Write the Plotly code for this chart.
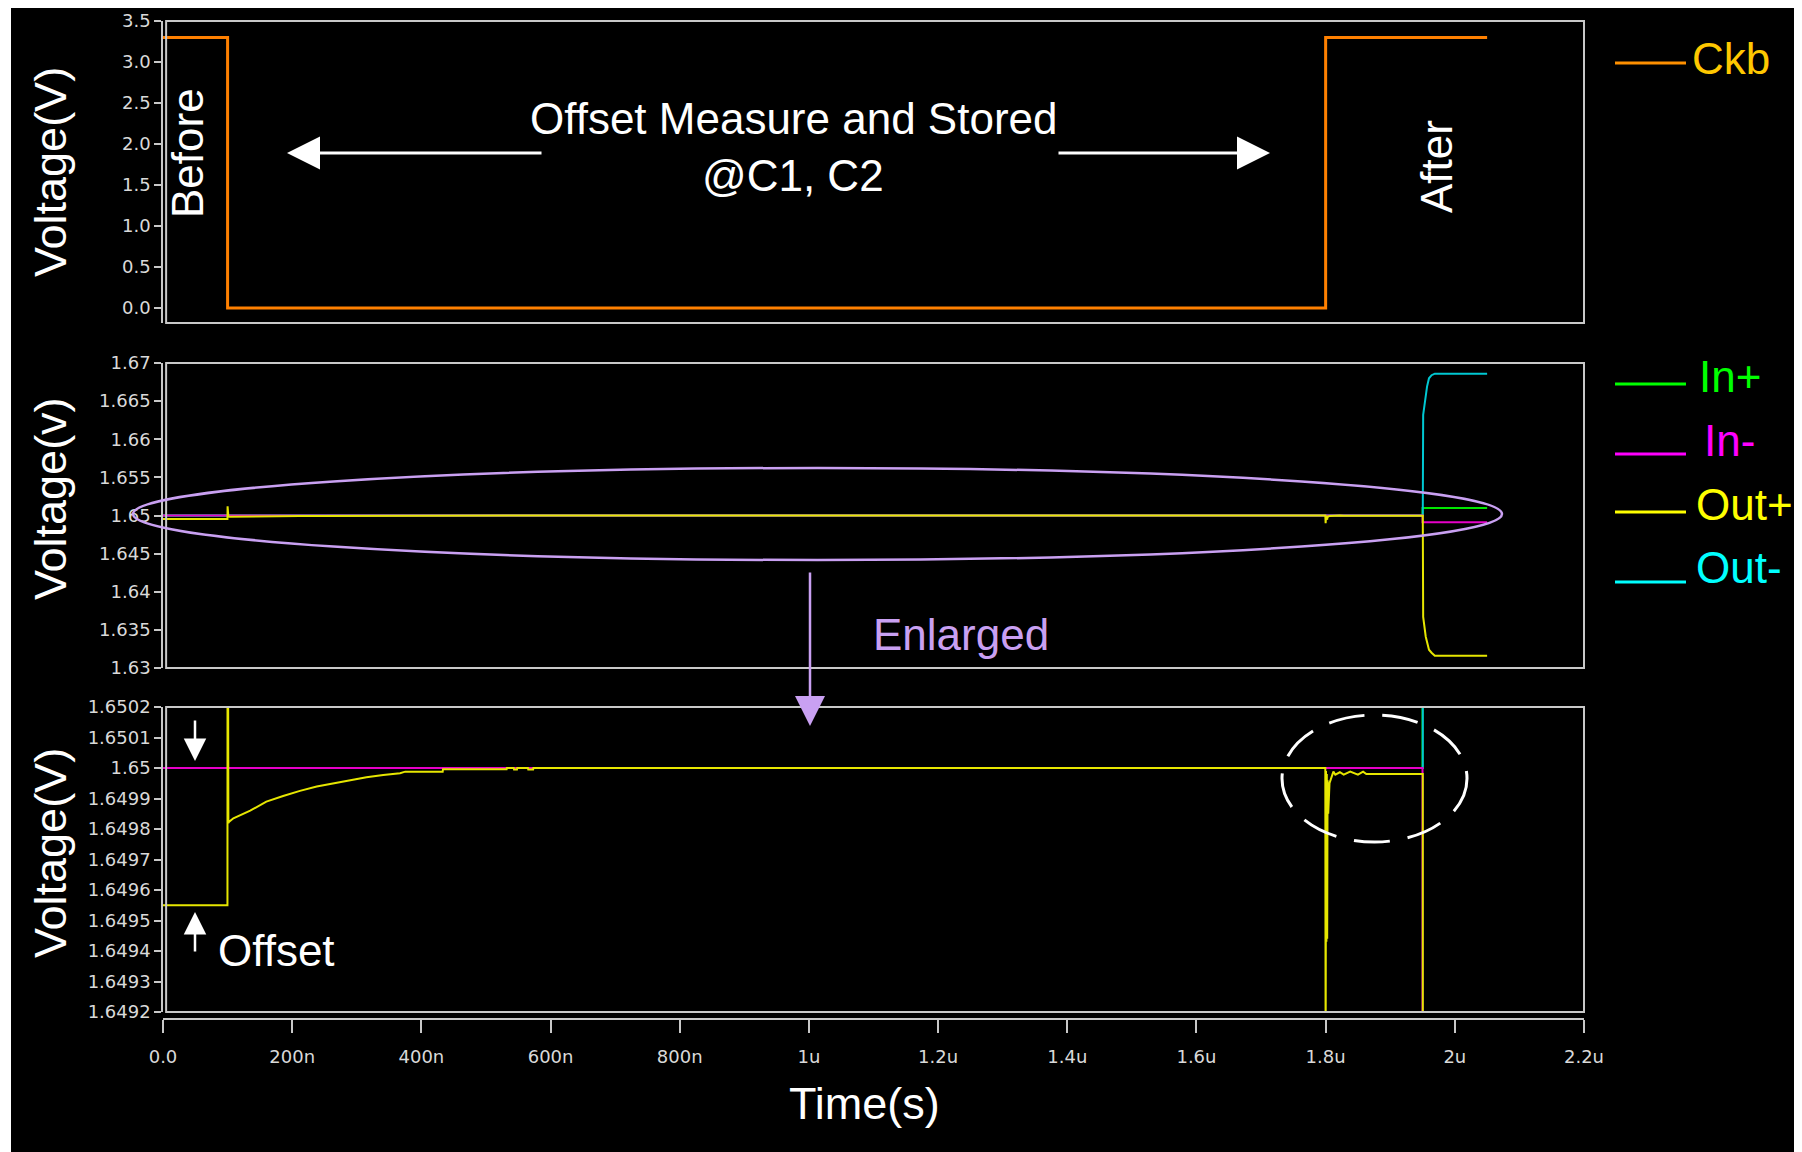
import plotly.graph_objects as go

W, H = 1802, 1152
PAGE_OFFSET = 8  # the page body margin shifts the figure by this many pixels

# ---------------- data (time in ns, voltage in V) ----------------
time_ckb_ns = [0, 100, 100, 1800, 1800, 2050]
ckb_v = [3.3, 3.3, 0.0, 0.0, 3.3, 3.3]

time_in_ns = [0, 1950, 1950, 2050]
in_plus_v = [1.65, 1.65, 1.651, 1.651]
in_minus_v = [1.65, 1.65, 1.6491, 1.6491]

time_out_minus_ns = [0, 1950.4, 1951, 1955, 1957, 1960, 1964, 1969, 2050]
out_minus_v = [1.65, 1.65, 1.6632, 1.6661, 1.6669, 1.6680, 1.6684, 1.6686, 1.6686]

time_out_plus_ns = [0, 99.8, 100, 100.6, 101.2, 102,
                    109, 135, 160, 186, 212, 238, 264, 289, 315, 341, 367,
                    375, 433, 433.5, 532, 532.5, 543, 543.5, 548, 548.5, 565, 565.5, 573, 573.5,
                    1799.5, 1800, 1800.6, 1801.2, 1801.8, 1802.4, 1803, 1804, 1806,
                    1812, 1815, 1822, 1828, 1838, 1850, 1858, 1863,
                    1950.4, 1951, 1955, 1957, 1960, 1964, 1969, 2050]
out_plus_v = [1.64955, 1.64955, 1.6512, 1.64988, 1.64982, 1.649823,
              1.649835, 1.64986, 1.64989, 1.649908, 1.649925, 1.649939, 1.64995, 1.649961, 1.64997, 1.649977, 1.649983,
              1.649988, 1.649988, 1.649996, 1.649996, 1.65, 1.65, 1.649995, 1.649995, 1.65, 1.65, 1.649995, 1.649995, 1.65,
              1.65, 1.649, 1.64999, 1.64943, 1.64998, 1.64944, 1.64996, 1.64985, 1.64995,
              1.649988, 1.649978, 1.649986, 1.649978, 1.649988, 1.649978, 1.649988, 1.64998,
              1.64998, 1.6367, 1.6341, 1.6333, 1.6324, 1.6320, 1.6316, 1.6316]

x_tick_vals_ns = [0, 200, 400, 600, 800, 1000, 1200, 1400, 1600, 1800, 2000, 2200]
x_tick_text = ["0.0", "200n", "400n", "600n", "800n", "1u", "1.2u", "1.4u", "1.6u", "1.8u", "2u", "2.2u"]

y1_tick_vals = [0.0, 0.5, 1.0, 1.5, 2.0, 2.5, 3.0, 3.5]
y1_tick_text = ["0.0", "0.5", "1.0", "1.5", "2.0", "2.5", "3.0", "3.5"]
y2_tick_vals = [1.63, 1.635, 1.64, 1.645, 1.65, 1.655, 1.66, 1.665, 1.67]
y2_tick_text = ["1.63", "1.635", "1.64", "1.645", "1.65", "1.655", "1.66", "1.665", "1.67"]
y3_tick_vals = [1.6492, 1.6493, 1.6494, 1.6495, 1.6496, 1.6497, 1.6498, 1.6499, 1.65, 1.6501, 1.6502]
y3_tick_text = ["1.6492", "1.6493", "1.6494", "1.6495", "1.6496", "1.6497", "1.6498", "1.6499", "1.65", "1.6501", "1.6502"]

legend_names = ["Ckb", "In+", "In-", "Out+", "Out-"]

# ---------------- styling ----------------
C_CKB = "#FF8000"
C_INP = "#00E600"
C_INM = "#E600C8"
C_OUTP = "#E6E600"
C_OUTM = "#00C8D2"
LAV = "#C9A0F2"
FRAME = "#C8C8C8"
TICKFONT = dict(family="DejaVu Sans", size=18, color="#D9D9D9")
BIG = "Liberation Sans, Arial, sans-serif"


def px(x):
    return (x - PAGE_OFFSET) / W


def py(y):
    return 1 - (y - PAGE_OFFSET) / H


XL, XR = px(163), px(1584)
dom_top = [py(323), py(21)]
dom_mid = [py(668), py(363)]
dom_bot = [py(1012), py(707)]

fig = go.Figure()

# top panel
fig.add_trace(go.Scatter(x=time_ckb_ns, y=ckb_v, mode="lines", line=dict(color=C_CKB, width=3),
                         xaxis="x", yaxis="y", name="Ckb", showlegend=False))

# middle and bottom panels: same signals on two scales
for xa, ya in (("x2", "y2"), ("x3", "y3")):
    fig.add_trace(go.Scatter(x=time_in_ns, y=in_plus_v, mode="lines", line=dict(color=C_INP, width=2),
                             xaxis=xa, yaxis=ya, name="In+", showlegend=False))
    fig.add_trace(go.Scatter(x=time_out_minus_ns, y=out_minus_v, mode="lines", line=dict(color=C_OUTM, width=2),
                             xaxis=xa, yaxis=ya, name="Out-", showlegend=False))
    fig.add_trace(go.Scatter(x=time_in_ns, y=in_minus_v, mode="lines", line=dict(color=C_INM, width=2),
                             xaxis=xa, yaxis=ya, name="In-", showlegend=False))
    fig.add_trace(go.Scatter(x=time_out_plus_ns, y=out_plus_v, mode="lines", line=dict(color=C_OUTP, width=2),
                             xaxis=xa, yaxis=ya, name="Out+", showlegend=False))

xcommon = dict(range=[0, 2200], domain=[XL, XR], showgrid=False, zeroline=False, automargin=False)
ycommon = dict(showgrid=False, zeroline=False, ticks="outside", ticklen=7, tickwidth=1.5,
               tickcolor=FRAME, showline=True, linecolor=FRAME, linewidth=1.5,
               tickfont=TICKFONT, ticklabelstandoff=0, automargin=False)

fig.update_layout(
    width=W, height=H,
    margin=dict(l=0, r=0, t=0, b=0, pad=0, autoexpand=False),
    paper_bgcolor="black", plot_bgcolor="black",
    showlegend=False,
    xaxis=dict(**xcommon, anchor="y", showticklabels=False, ticks=""),
    xaxis2=dict(**xcommon, anchor="y2", showticklabels=False, ticks="", matches="x"),
    xaxis3=dict(**xcommon, anchor="free", position=py(1019), matches="x",
                showline=True, linecolor=FRAME, linewidth=2,
                ticks="outside", ticklen=13, tickwidth=1.5, tickcolor=FRAME,
                ticklabelstandoff=8,
                tickvals=x_tick_vals_ns, ticktext=x_tick_text, tickfont=TICKFONT),
    yaxis=dict(**ycommon, domain=dom_top, anchor="x", range=[-0.183, 3.5],
               tickvals=y1_tick_vals, ticktext=y1_tick_text),
    yaxis2=dict(**ycommon, domain=dom_mid, anchor="x2", range=[1.63, 1.67],
                tickvals=y2_tick_vals, ticktext=y2_tick_text),
    yaxis3=dict(**ycommon, domain=dom_bot, anchor="x3", range=[1.6492, 1.6502],
                tickvals=y3_tick_vals, ticktext=y3_tick_text),
)

shapes = []
# a slightly wider white page edge on the left, as in the original picture
shapes.append(dict(type="rect", xref="paper", yref="paper", x0=0, x1=px(11), y0=0, y1=1,
                   fillcolor="white", line=dict(width=0), layer="below"))
# frames around the panels
for xa, ya in (("x", "y"), ("x2", "y2"), ("x3", "y3")):
    shapes.append(dict(type="rect", xref=f"{xa} domain", yref=f"{ya} domain",
                       x0=0.0022, x1=1, y0=0, y1=1, line=dict(color=FRAME, width=2)))
# lavender ellipse in middle panel
shapes.append(dict(type="circle", xref="paper", yref="paper",
                   x0=px(133), x1=px(1502), y0=py(560), y1=py(468),
                   line=dict(color=LAV, width=2.5)))
# white dashed ellipse in bottom panel
shapes.append(dict(type="circle", xref="paper", yref="paper",
                   x0=px(1282), x1=px(1467), y0=py(842), y1=py(715),
                   line=dict(color="white", width=3, dash="36px,18px")))
# legend samples
legend_cols_line = ["#FF9000", "#00FF00", "#FF00FF", "#FFFF00", "#00FFFF"]
legend_cols_text = ["#FFC800", "#00FF00", "#FF00FF", "#FFFF00", "#00FFFF"]
legend_line_y = [63, 384, 454, 512, 582]
legend_text_y = [58, 376, 440, 504, 567]
legend_text_x = [1690, 1697, 1702, 1694, 1694]
for i in range(len(legend_names)):
    shapes.append(dict(type="line", xref="paper", yref="paper",
                       x0=px(1615), x1=px(1686), y0=py(legend_line_y[i]), y1=py(legend_line_y[i]),
                       line=dict(color=legend_cols_line[i], width=3)))
fig.update_layout(shapes=shapes)

ann = []


def text(x, y, s, size=45, color="white", angle=0, xanchor="center"):
    ann.append(dict(x=px(x), y=py(y), xref="paper", yref="paper", text=s, showarrow=False,
                    font=dict(family=BIG, size=size, color=color), textangle=angle,
                    xanchor=xanchor, yanchor="middle"))


def arrow(x_head, y_head, x_tail, y_tail, color="white", width=3, size=2.2):
    ann.append(dict(x=px(x_head), y=py(y_head), xref="paper", yref="paper",
                    ax=x_tail - x_head, ay=y_tail - y_head, axref="pixel", ayref="pixel",
                    text="", showarrow=True, arrowhead=2, arrowsize=size, arrowwidth=width,
                    arrowcolor=color, standoff=0, startstandoff=0))


for i, name in enumerate(legend_names):
    text(legend_text_x[i], legend_text_y[i], name, size=44, color=legend_cols_text[i], xanchor="left")

text(50, 172, "Voltage(V)", angle=-90)
text(50, 499, "Voltage(v)", angle=-90)
text(50, 853, "Voltage(V)", angle=-90)
text(864, 1103, "Time(s)")
text(187, 153, "Before", size=44, angle=-90)
text(1436, 167, "After", size=44, angle=-90)
text(793, 118, "Offset Measure and Stored", size=44)
text(793, 175, "@C1, C2", size=44)
text(961, 634, "Enlarged", size=44, color=LAV)
text(216, 950, "Offset", size=44, xanchor="left")

arrow(287, 153, 543, 153)
arrow(1270, 153, 1057, 153)
arrow(810, 726, 810, 571, color=LAV, width=2.5, size=2.4)
arrow(195, 761, 195, 719, width=2.5, size=1.8)
arrow(195, 912, 195, 953, width=2.5, size=1.8)

fig.update_layout(annotations=ann)

fig.write_html("out.html")
